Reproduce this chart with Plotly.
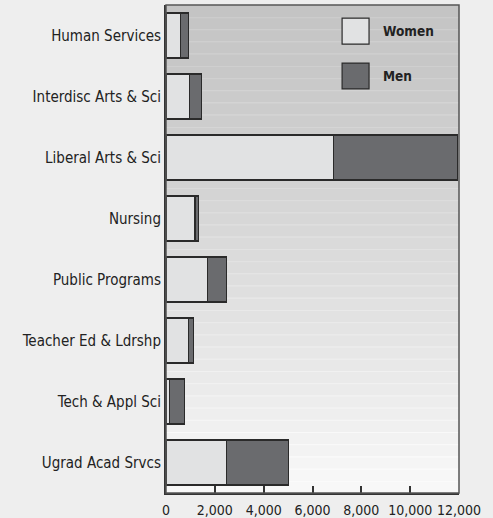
import plotly.graph_objects as go

categories = ["Human Services", "Interdisc Arts & Sci", "Liberal Arts & Sci", "Nursing",
              "Public Programs", "Teacher Ed & Ldrshp", "Tech & Appl Sci", "Ugrad Acad Srvcs"]
women = [610, 960, 6850, 1190, 1690, 930, 140, 2480]
men = [300, 480, 5100, 150, 790, 180, 620, 2530]
tick_vals = [0, 2000, 4000, 6000, 8000, 10000, 12000]
tick_text = ["0", "2,000", "4,000", "6,000", "8,000", "10,000", "12,000"]

FONT = "Liberation Sans Narrow, DejaVu Sans Condensed, Arial Narrow, sans-serif"
W_COL = "#e1e2e3"
M_COL = "#6a6b6e"
EDGE = "#2a2a2a"

fig = go.Figure()
fig.add_trace(go.Bar(y=categories, x=women, orientation="h", name="Women",
                     marker=dict(color=W_COL, line=dict(color=EDGE, width=1.2))))
fig.add_trace(go.Bar(y=categories, x=men, orientation="h", name="Men",
                     marker=dict(color=M_COL, line=dict(color=EDGE, width=1.2))))

shapes = []
n = 40
for i in range(n):
    t = (i + 0.5) / n
    v = int(round(196 + 53 * t ** 1.25))
    y1 = 1 - i / n
    y0 = 1 - (i + 1) / n
    shapes.append(dict(type="rect", xref="paper", yref="paper", x0=0, x1=1, y0=y0, y1=y1,
                       fillcolor=f"rgb({v},{v},{v})", line=dict(width=0), layer="below"))
    lv = min(v + 7, 252)
    shapes.append(dict(type="line", xref="paper", yref="paper", x0=0, x1=1, y0=y1 - 0.001, y1=y1 - 0.001,
                       line=dict(color=f"rgb({lv},{lv},{lv})", width=1), layer="below"))
# frame
shapes.append(dict(type="rect", xref="paper", yref="paper", x0=0, x1=1, y0=0, y1=1,
                   line=dict(color="#555555", width=1.5), fillcolor="rgba(0,0,0,0)", layer="above"))
# legend boxes
shapes.append(dict(type="rect", xref="paper", yref="paper", x0=0.601, x1=0.693, y0=0.920, y1=0.973,
                   fillcolor=W_COL, line=dict(color=EDGE, width=1.2), layer="above"))
shapes.append(dict(type="rect", xref="paper", yref="paper", x0=0.601, x1=0.693, y0=0.828, y1=0.881,
                   fillcolor=M_COL, line=dict(color=EDGE, width=1.2), layer="above"))

annotations = [
    dict(xref="paper", yref="paper", x=0.735, y=0.947, text="<b>Women</b>", showarrow=False,
         xanchor="left", yanchor="middle", font=dict(family=FONT, size=13.5, color="#222")),
    dict(xref="paper", yref="paper", x=0.735, y=0.855, text="<b>Men</b>", showarrow=False,
         xanchor="left", yanchor="middle", font=dict(family=FONT, size=13.5, color="#222")),
]

fig.update_layout(
    barmode="stack",
    bargap=0.26,
    width=493, height=518,
    margin=dict(l=166, r=34, t=5, b=25, autoexpand=False),
    paper_bgcolor="#eeeeee",
    plot_bgcolor="rgba(0,0,0,0)",
    showlegend=False,
    shapes=shapes,
    annotations=annotations,
    font=dict(family=FONT, color="#222222"),
    xaxis=dict(range=[0, 12000], tickvals=tick_vals, ticktext=tick_text, ticks="inside",
               ticklen=7, tickwidth=1.5, tickcolor="#333", showgrid=False, zeroline=False,
               showline=True, linecolor="#333", linewidth=2, tickfont=dict(size=14, family=FONT),
               ticklabelstandoff=3, automargin=False, fixedrange=True),
    yaxis=dict(categoryorder="array", categoryarray=categories, autorange="reversed",
               showgrid=False, zeroline=False, showline=True, linecolor="#333", linewidth=2,
               ticks="", tickfont=dict(size=15, family=FONT), automargin=False, fixedrange=True),
)

fig.write_html("out.html", config={"displayModeBar": False},
               post_script="document.body.style.margin='0';document.body.style.background='#eeeeee';")
